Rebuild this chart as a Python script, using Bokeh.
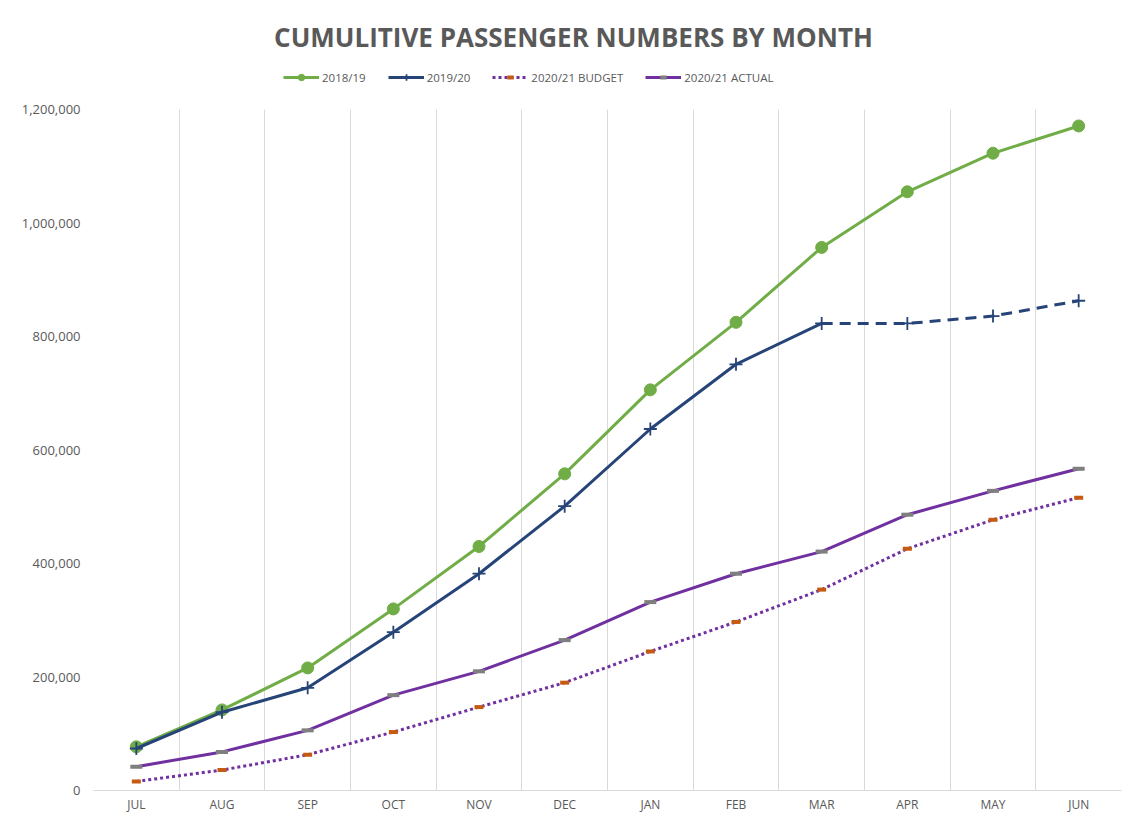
from bokeh.plotting import figure
from bokeh.layouts import column
from bokeh.models import (Legend, LegendItem, FixedTicker, NumeralTickFormatter,
                          Range1d, Label)
from bokeh.embed import file_html
from bokeh.resources import INLINE
import numpy as np

months = ["JUL", "AUG", "SEP", "OCT", "NOV", "DEC", "JAN", "FEB", "MAR", "APR", "MAY", "JUN"]
fy1819 = [77000, 142000, 216000, 320000, 430000, 558000, 706000, 825000, 957000, 1055000, 1123000, 1171000]
fy1920 = [74000, 138000, 181000, 279000, 382000, 501000, 637000, 751000, 823000, 823000, 836000, 863000]
budget2021 = [16000, 36000, 63000, 103000, 147000, 190000, 245000, 297000, 354000, 426000, 477000, 516000]
actual2021 = [42000, 68000, 106000, 168000, 210000, 265000, 332000, 382000, 421000, 486000, 528000, 567000]
series_names = ["2018/19", "2019/20", "2020/21 BUDGET", "2020/21 ACTUAL"]
fy1920_actual_to = 9  # solid through MAR, dashed afterwards
chart_title = "CUMULITIVE PASSENGER NUMBERS BY MONTH"

FONT = "Open Sans"
GREY = "#595959"
GREEN = "#70ad47"
NAVY = "#264478"
PURPLE = "#7030a0"
ORANGE = "#c55a11"
MARKGREY = "#7f7f7f"

W = 1128
HEAD_H = 95
MAIN_H = 720
LEFT = 93
RIGHT = 7

x = np.arange(len(months)) + 0.5

# ---------------- header (title + legend) ----------------
head = figure(width=W, height=HEAD_H, output_backend="svg", toolbar_location=None,
              x_range=Range1d(LEFT, W - RIGHT), y_range=Range1d(0, HEAD_H),
              x_axis_type=None, y_axis_type=None, title_location=None,
              min_border_left=LEFT, min_border_right=RIGHT,
              min_border_top=0, min_border_bottom=0)
head.outline_line_color = None
head.xgrid.visible = False
head.ygrid.visible = False
head.background_fill_color = "white"
head.border_fill_color = "white"

head.add_layout(Label(x=573, y=HEAD_H - 36, text=chart_title,
                      text_align="center", text_baseline="middle",
                      text_font=FONT, text_font_size="26px", text_font_style="bold",
                      text_color=GREY))

# legend proxies (hidden; only their legend glyphs are shown)
h1 = head.line(x, fy1819, line_color=GREEN, line_width=3, visible=False)
h1m = head.scatter(x, fy1819, marker="circle", size=9, fill_color=GREEN, line_color=GREEN, visible=False)
h2 = head.line(x, fy1920, line_color=NAVY, line_width=3, visible=False)
h2m = head.scatter(x, fy1920, marker="cross", size=12, line_color=NAVY, line_width=1.8, visible=False)
h3 = head.line(x, budget2021, line_color=PURPLE, line_width=3, line_dash="3 3", visible=False)
h3m = head.scatter(x, budget2021, marker="dash", size=9, line_color=ORANGE, line_width=4, visible=False)
h4 = head.line(x, actual2021, line_color=PURPLE, line_width=3, visible=False)
h4m = head.scatter(x, actual2021, marker="dash", size=11, line_color=MARKGREY, line_width=4, visible=False)

legend = Legend(items=[
    LegendItem(label=series_names[0], renderers=[h1, h1m]),
    LegendItem(label=series_names[1], renderers=[h2, h2m]),
    LegendItem(label=series_names[2], renderers=[h3, h3m]),
    LegendItem(label=series_names[3], renderers=[h4, h4m]),
], orientation="horizontal", location=(283 - LEFT, 10))
legend.border_line_color = None
legend.background_fill_alpha = 0
legend.inactive_fill_alpha = 0
legend.label_text_font = FONT
legend.label_text_font_size = "11.5px"
legend.label_text_color = GREY
legend.glyph_width = 36
legend.glyph_height = 16
legend.label_standoff = 3
legend.spacing = 22
legend.padding = 4
legend.margin = 0
head.add_layout(legend)

# ---------------- main chart ----------------
p = figure(width=W, height=MAIN_H, output_backend="svg", toolbar_location=None,
           x_range=Range1d(0, len(months)), y_range=Range1d(0, 1200000),
           title_location=None,
           min_border_left=LEFT, min_border_right=RIGHT, min_border_top=14,
           min_border_bottom=24)
p.outline_line_color = None
p.background_fill_color = "white"
p.border_fill_color = "white"

p.xaxis.ticker = FixedTicker(ticks=list(x))
p.xaxis.major_label_overrides = {float(v): m for v, m in zip(x, months)}
p.xaxis.axis_line_color = "#d9d9d9"
p.xaxis.major_tick_line_color = None
p.xaxis.minor_tick_line_color = None
p.xaxis.major_tick_out = 0
p.xaxis.major_tick_in = 0
p.xaxis.minor_tick_out = 0
p.xaxis.major_label_text_font = FONT
p.xaxis.major_label_text_font_size = "12px"
p.xaxis.major_label_text_color = GREY
p.xaxis.major_label_standoff = 5

p.yaxis.ticker = FixedTicker(ticks=list(range(0, 1200001, 200000)))
p.yaxis.formatter = NumeralTickFormatter(format="0,0")
p.yaxis.axis_line_color = None
p.yaxis.major_tick_line_color = None
p.yaxis.minor_tick_line_color = None
p.yaxis.major_tick_out = 0
p.yaxis.major_tick_in = 0
p.yaxis.minor_tick_out = 0
p.yaxis.major_label_text_font = FONT
p.yaxis.major_label_text_font_size = "13px"
p.yaxis.major_label_text_color = GREY
p.yaxis.major_label_standoff = 13

p.xgrid.ticker = FixedTicker(ticks=list(range(0, len(months) + 1)))
p.xgrid.grid_line_color = "#d9d9d9"
p.xgrid.grid_line_width = 1
p.ygrid.grid_line_color = None

p.line(x, fy1819, line_color=GREEN, line_width=3)
p.scatter(x, fy1819, marker="circle", size=12, fill_color=GREEN, line_color=GREEN)

k = fy1920_actual_to
p.line(x[:k], fy1920[:k], line_color=NAVY, line_width=3)
p.line(x[k - 1:], fy1920[k - 1:], line_color=NAVY, line_width=3, line_dash="11 7")
p.scatter(x, fy1920, marker="cross", size=13, line_color=NAVY, line_width=1.8)

p.line(x, budget2021, line_color=PURPLE, line_width=3, line_dash="3 3")
p.scatter(x, budget2021, marker="dash", size=9, line_color=ORANGE, line_width=4)

p.line(x, actual2021, line_color=PURPLE, line_width=3)
p.scatter(x, actual2021, marker="dash", size=12, line_color=MARKGREY, line_width=4)

layout = column(head, p, spacing=0)
open("out.html", "w").write(file_html(layout, INLINE))
